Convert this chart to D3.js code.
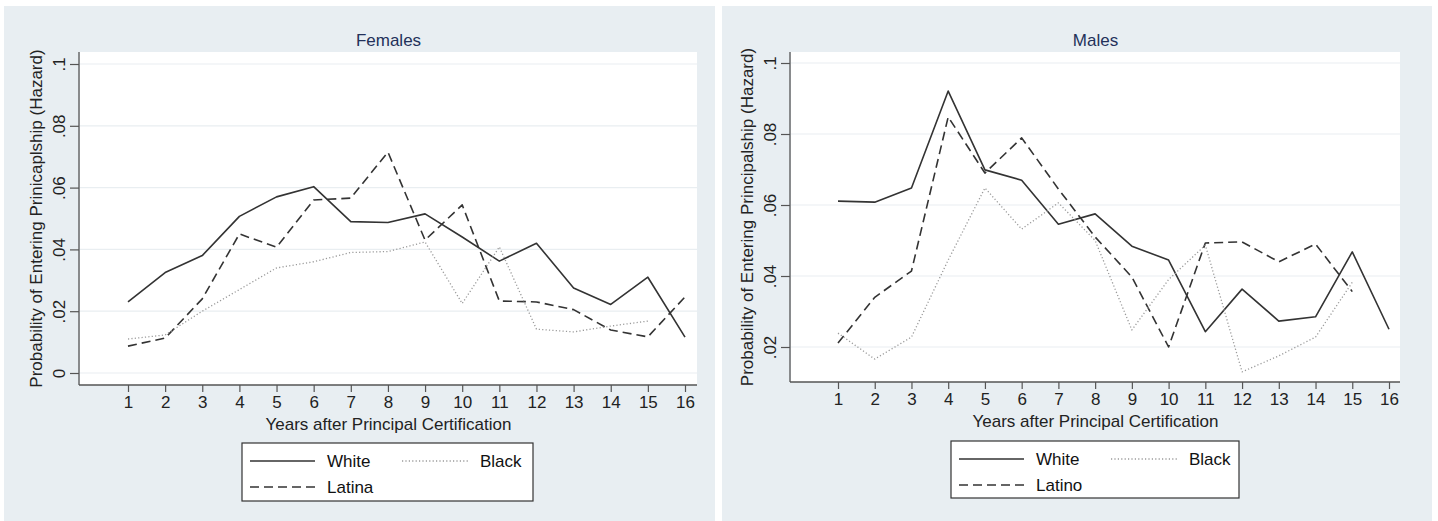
<!DOCTYPE html>
<html>
<head>
<meta charset="utf-8">
<script src="https://cdn.jsdelivr.net/npm/d3@7"></script>
<style>
  body { margin: 0; background: #fff; }
  svg { display: block; font-family: "Liberation Sans", Arial, sans-serif; }
</style>
</head>
<body>
<svg id="chart" width="1438" height="521"></svg>
<script>
// years after certification
const years = [1, 2, 3, 4, 5, 6, 7, 8, 9, 10, 11, 12, 13, 14, 15, 16];

// females
const femaleWhite  = [0.023, 0.0325, 0.038, 0.0507, 0.057, 0.0603, 0.049, 0.0487, 0.0515, 0.044, 0.0362, 0.042, 0.0275, 0.0222, 0.031, 0.0116];
const femaleLatina = [0.0087, 0.0113, 0.024, 0.045, 0.0407, 0.056, 0.0566, 0.0715, 0.043, 0.0544, 0.0233, 0.023, 0.0205, 0.0139, 0.0117, 0.0246];
const femaleBlack  = [0.011, 0.0123, 0.02, 0.027, 0.034, 0.036, 0.039, 0.0393, 0.0424, 0.0225, 0.0408, 0.0142, 0.0133, 0.0152, 0.0168];

// males
const maleWhite  = [0.0611, 0.0608, 0.0648, 0.0921, 0.0699, 0.067, 0.0546, 0.0575, 0.0484, 0.0445, 0.0243, 0.0363, 0.0273, 0.0285, 0.0468, 0.025];
const maleLatino = [0.0211, 0.034, 0.0414, 0.0848, 0.069, 0.0789, 0.0645, 0.051, 0.0397, 0.02, 0.0493, 0.0496, 0.044, 0.049, 0.0356];
const maleBlack  = [0.0239, 0.0166, 0.0228, 0.0445, 0.0648, 0.0532, 0.0606, 0.05, 0.0248, 0.039, 0.0487, 0.013, 0.0175, 0.0228, 0.0382];

const femaleTicks = [0, 0.02, 0.04, 0.06, 0.08, 0.1];
const maleTicks   = [0.02, 0.04, 0.06, 0.08, 0.1];

const tickFmt = v => v === 0 ? "0" : d3.format(".2~f")(v).replace(/^0/, "");

const svg = d3.select("#chart");
const FS = 17;

const styles = {
  solid:  { stroke: "#333", dash: null, width: 1.6 },
  dashed: { stroke: "#333", dash: "9,5", width: 1.6 },
  dotted: { stroke: "#9a9a9a", dash: "1.2,2.2", width: 1.3 }
};

function drawPanel(cfg) {
  const g = svg.append("g");

  // panel background
  g.append("rect")
    .attr("x", cfg.panel[0]).attr("y", cfg.panel[1])
    .attr("width", cfg.panel[2] - cfg.panel[0]).attr("height", cfg.panel[3] - cfg.panel[1])
    .attr("fill", "#e8eef2");

  const [px0, py0, px1, py1] = cfg.plot;
  g.append("rect")
    .attr("x", px0).attr("y", py0)
    .attr("width", px1 - px0).attr("height", py1 - py0)
    .attr("fill", "#fff");

  const x = d3.scaleLinear().domain([1, 16]).range(cfg.xRange);
  const y = d3.scaleLinear().domain(cfg.yDomain).range(cfg.yRange);

  // gridlines
  g.append("g").selectAll("line")
    .data(cfg.ticks)
    .join("line")
    .attr("x1", px0).attr("x2", px1)
    .attr("y1", d => y(d)).attr("y2", d => y(d))
    .attr("stroke", "#e9eef1").attr("stroke-width", 1.2);

  // series
  const line = d3.line().x((d, i) => x(years[i])).y(d => y(d));
  cfg.series.forEach(s => {
    const st = styles[s.style];
    g.append("path")
      .attr("d", line(s.values))
      .attr("fill", "none")
      .attr("stroke", st.stroke)
      .attr("stroke-width", st.width)
      .attr("stroke-dasharray", st.dash)
      .attr("stroke-linejoin", "round");
  });

  // y axis
  const yAxis = g.append("g")
    .attr("transform", `translate(${px0 - 1},0)`)
    .call(d3.axisLeft(y).tickValues(cfg.ticks).tickFormat(tickFmt).tickSize(9).tickSizeOuter(0));
  yAxis.select(".domain").attr("d", `M0,${py0}V${py1}`).attr("stroke", "#555").attr("stroke-width", 1.3);
  yAxis.selectAll(".tick line").attr("stroke", "#555").attr("stroke-width", 1.2);
  yAxis.selectAll(".tick text")
    .attr("x", null).attr("dy", null)
    .attr("transform", "translate(-14,0) rotate(-90)")
    .attr("text-anchor", "middle")
    .attr("font-size", FS)
    .attr("fill", "#222");

  // x axis
  const xAxis = g.append("g")
    .attr("transform", `translate(0,${py1})`)
    .call(d3.axisBottom(x).tickValues(years).tickFormat(d3.format("d")).tickSize(7).tickSizeOuter(0));
  xAxis.select(".domain").attr("d", `M${px0 - 1},0H${px1}`).attr("stroke", "#555").attr("stroke-width", 1.3);
  xAxis.selectAll(".tick line").attr("stroke", "#555").attr("stroke-width", 1.2);
  xAxis.selectAll(".tick text")
    .attr("y", 11)
    .attr("font-size", FS)
    .attr("fill", "#222");

  const cx = (px0 + px1) / 2;

  // titles
  g.append("text")
    .attr("x", cx).attr("y", 46)
    .attr("text-anchor", "middle")
    .attr("font-size", FS)
    .attr("fill", "#23315a")
    .text(cfg.title);

  g.append("text")
    .attr("x", cx).attr("y", py1 + 45)
    .attr("text-anchor", "middle")
    .attr("font-size", FS)
    .attr("fill", "#222")
    .text("Years after Principal Certification");

  g.append("text")
    .attr("transform", `translate(${cfg.yTitleX},${(py0 + py1) / 2}) rotate(-90)`)
    .attr("text-anchor", "middle")
    .attr("font-size", FS)
    .attr("fill", "#222")
    .text(cfg.yTitle);

  // legend
  const [lx0, ly0, lx1, ly1] = cfg.legend;
  g.append("rect")
    .attr("x", lx0).attr("y", ly0)
    .attr("width", lx1 - lx0).attr("height", ly1 - ly0)
    .attr("fill", "#fff").attr("stroke", "#333").attr("stroke-width", 1.2);

  const items = [
    { label: cfg.series[0].label, style: "solid",  col: 0, row: 0 },
    { label: cfg.series[2].label, style: "dotted", col: 1, row: 0 },
    { label: cfg.series[1].label, style: "dashed", col: 0, row: 1 }
  ];
  items.forEach(it => {
    const st = styles[it.style];
    const ly = ly0 + 18 + it.row * 26;
    const sx = it.col === 0 ? lx0 + 8 : lx0 + 160;
    g.append("line")
      .attr("x1", sx).attr("x2", sx + (it.col === 0 ? 65 : 68))
      .attr("y1", ly).attr("y2", ly)
      .attr("stroke", st.stroke).attr("stroke-width", st.width)
      .attr("stroke-dasharray", st.dash);
    g.append("text")
      .attr("x", it.col === 0 ? sx + 77 : sx + 78).attr("y", ly + 6)
      .attr("font-size", FS)
      .attr("fill", "#111")
      .text(it.label);
  });
}

drawPanel({
  title: "Females",
  yTitle: "Probability of Entering Prinicaplship (Hazard)",
  panel: [4, 6, 715, 521],
  plot: [80, 52, 697, 385],
  xRange: [128, 685],
  yDomain: [0, 0.1],
  yRange: [373, 64],
  yTitleX: 42,
  ticks: femaleTicks,
  legend: [242, 443, 533, 501],
  series: [
    { label: "White",  style: "solid",  values: femaleWhite },
    { label: "Latina", style: "dashed", values: femaleLatina },
    { label: "Black",  style: "dotted", values: femaleBlack }
  ]
});

drawPanel({
  title: "Males",
  yTitle: "Probability of Entering Principalship (Hazard)",
  panel: [722, 6, 1432, 521],
  plot: [791, 52, 1400, 382],
  xRange: [838, 1389],
  yDomain: [0.02, 0.1],
  yRange: [347, 63],
  yTitleX: 753,
  ticks: maleTicks,
  legend: [951, 441, 1239, 498],
  series: [
    { label: "White",  style: "solid",  values: maleWhite },
    { label: "Latino", style: "dashed", values: maleLatino },
    { label: "Black",  style: "dotted", values: maleBlack }
  ]
});
</script>
</body>
</html>
